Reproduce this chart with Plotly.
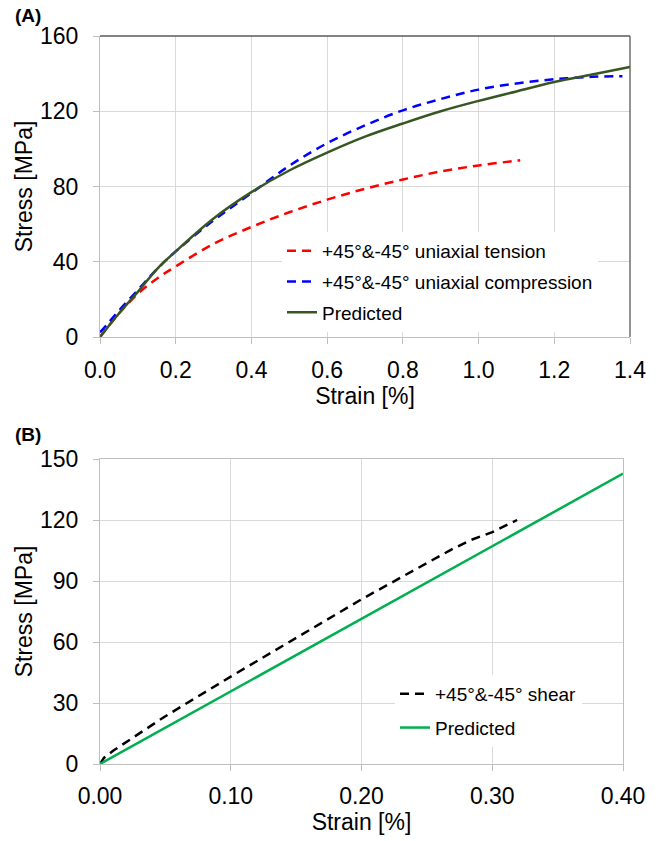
import plotly.graph_objects as go

# ---------------- Data: panel (A) ----------------
a_tension_strain = [0, 0.05, 0.1, 0.15, 0.2, 0.3, 0.4, 0.5, 0.6, 0.7, 0.8, 0.9, 1.0, 1.1, 1.11]
a_tension_stress = [0, 12.5, 23, 31, 37.5, 49.5, 58.5, 66.3, 73, 78.8, 83.7, 88, 91.2, 93.7, 94]

a_comp_strain = [0, 0.02, 0.05, 0.1, 0.15, 0.2, 0.3, 0.4, 0.5, 0.6, 0.7, 0.8, 0.9, 1.0, 1.1, 1.2, 1.3, 1.38]
a_comp_stress = [2.5, 7, 14, 25, 36, 45.5, 62, 76.5, 91, 103, 112.5, 120.5, 126.5, 131.5, 134.8, 137, 138.3, 138.6]

a_pred_strain = [0, 0.05, 0.1, 0.15, 0.2, 0.3, 0.4, 0.5, 0.6, 0.7, 0.8, 0.9, 1.0, 1.1, 1.2, 1.3, 1.4]
a_pred_stress = [0, 12.5, 24, 36, 45.5, 63, 77, 88.5, 98, 106.5, 113.5, 120, 125.5, 130.5, 135.5, 139.5, 143.5]

# ---------------- Data: panel (B) ----------------
b_shear_strain = [0, 0.003, 0.01, 0.05, 0.1, 0.15, 0.2, 0.25, 0.268, 0.283, 0.3, 0.319]
b_shear_stress = [0, 3, 6.5, 23.5, 43, 62, 81, 98.8, 105.2, 110, 114, 120]

b_pred_strain = [0, 0.1, 0.2, 0.3, 0.4]
b_pred_stress = [0, 35.7, 71.4, 107.1, 142.8]

a_xticks = [0.0, 0.2, 0.4, 0.6, 0.8, 1.0, 1.2, 1.4]
a_yticks = [0, 40, 80, 120, 160]
b_xticks = [0.0, 0.1, 0.2, 0.3, 0.4]
b_yticks = [0, 30, 60, 90, 120, 150]

W, H = 662, 841
FONT = "Liberation Sans, Arial, sans-serif"

def px_x(p):
    return p / W

def px_y(p):
    return (H - p) / H

fig = go.Figure()

fig.add_trace(go.Scatter(x=a_tension_strain, y=a_tension_stress, mode="lines",
                         name="+45°&-45° uniaxial tension", legendgroup="a1",
                         line=dict(color="#ff0000", width=2.5, dash="9px,6px", shape="spline"),
                         xaxis="x", yaxis="y", legend="legend"))
fig.add_trace(go.Scatter(x=a_comp_strain, y=a_comp_stress, mode="lines",
                         name="+45°&-45° uniaxial compression", legendgroup="a2",
                         line=dict(color="#0000ff", width=2.5, dash="9px,6px", shape="spline"),
                         xaxis="x", yaxis="y", legend="legend"))
fig.add_trace(go.Scatter(x=a_pred_strain, y=a_pred_stress, mode="lines",
                         name="Predicted", legendgroup="a3",
                         line=dict(color="#375623", width=2.5, shape="spline"),
                         xaxis="x", yaxis="y", legend="legend"))

fig.add_trace(go.Scatter(x=b_shear_strain, y=b_shear_stress, mode="lines",
                         name="+45°&-45° shear", legendgroup="b1",
                         line=dict(color="#000000", width=2.5, dash="9px,6px"),
                         xaxis="x2", yaxis="y2", legend="legend2"))
fig.add_trace(go.Scatter(x=b_pred_strain, y=b_pred_stress, mode="lines",
                         name="Predicted", legendgroup="b2",
                         line=dict(color="#00b050", width=2.5),
                         xaxis="x2", yaxis="y2", legend="legend2"))

grid = "#d9d9d9"
axl = "#bfbfbf"
tickfont = dict(family=FONT, size=23, color="#000000")
titlefont = dict(family=FONT, size=23, color="#000000")

common = dict(showgrid=True, gridcolor=grid, gridwidth=1, zeroline=False,
              showline=True, linecolor=axl, linewidth=1, ticks="outside",
              ticklen=6, tickcolor=axl, tickfont=tickfont, automargin=False)

fig.update_layout(
    width=W, height=H,
    margin=dict(l=0, r=0, t=0, b=0),
    paper_bgcolor="white", plot_bgcolor="white",
    font=dict(family=FONT, color="#000000"),
    xaxis=dict(domain=[px_x(100), px_x(630)], anchor="y", range=[0, 1.4],
               tickvals=a_xticks, tickformat=".1f", ticklabelstandoff=6,
               title=dict(text="Strain [%]", font=titlefont, standoff=2), **common),
    yaxis=dict(domain=[px_y(337), px_y(36)], anchor="x", range=[0, 160],
               tickvals=a_yticks, ticklabelstandoff=10,
               title=dict(text="Stress [MPa]", font=titlefont, standoff=0), **common),
    xaxis2=dict(domain=[px_x(100), px_x(623)], anchor="y2", range=[0, 0.4],
                tickvals=b_xticks, tickformat=".2f", ticklabelstandoff=5, mirror=True,
                title=dict(text="Strain [%]", font=titlefont, standoff=4), **common),
    yaxis2=dict(domain=[px_y(764), px_y(459)], anchor="x2", range=[0, 150],
                tickvals=b_yticks, ticklabelstandoff=10, mirror=True,
                title=dict(text="Stress [MPa]", font=titlefont, standoff=0), **common),
    legend=dict(x=px_x(282), y=px_y(232), xanchor="left", yanchor="top",
                bgcolor="white", borderwidth=0, tracegroupgap=3,
                font=dict(family=FONT, size=19, color="#000000")),
    legend2=dict(x=px_x(395), y=px_y(675), xanchor="left", yanchor="top",
                 bgcolor="white", borderwidth=0, tracegroupgap=6,
                 font=dict(family=FONT, size=19, color="#000000")),
    showlegend=True,
    annotations=[
        dict(text="<b>(A)</b>", xref="paper", yref="paper", x=px_x(13), y=px_y(16),
             xanchor="left", yanchor="middle", showarrow=False,
             font=dict(family=FONT, size=19, color="#000000")),
        dict(text="<b>(B)</b>", xref="paper", yref="paper", x=px_x(13), y=px_y(435),
             xanchor="left", yanchor="middle", showarrow=False,
             font=dict(family=FONT, size=19, color="#000000")),
    ],
    shapes=[
        dict(type="line", xref="x domain", yref="y domain", x0=0, x1=1, y0=1, y1=1,
             line=dict(color="#595959", width=1.3), layer="above"),
        dict(type="line", xref="x domain", yref="y domain", x0=1, x1=1, y0=0, y1=1,
             line=dict(color="#595959", width=1.3), layer="above"),
    ],
)

fig.write_html("out.html", config={"displayModeBar": False},
               post_script="document.body.style.margin='0px';")
